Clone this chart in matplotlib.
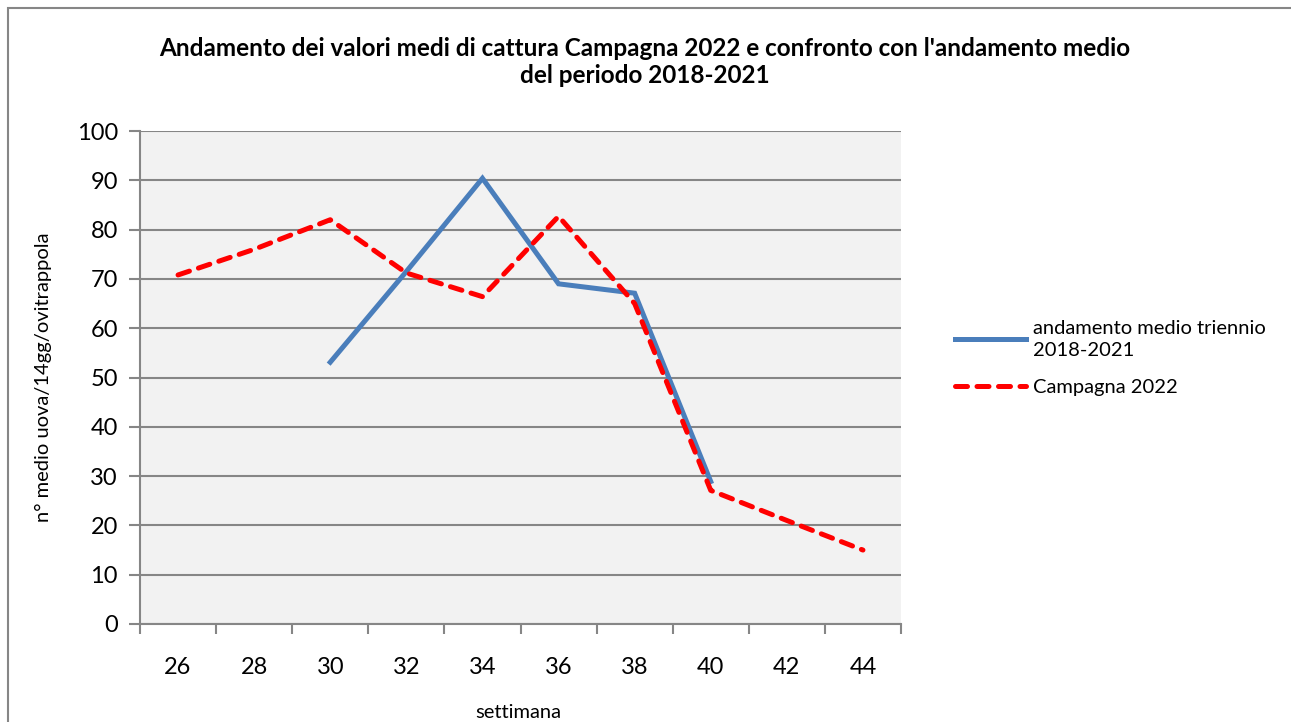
import matplotlib
matplotlib.use("Agg")
import matplotlib.pyplot as plt
from matplotlib.patches import Rectangle
import numpy as np

plt.rcParams["font.family"] = ["Lato", "DejaVu Sans"]

# Data
weeks = ["26", "28", "30", "32", "34", "36", "38", "40", "42", "44"]
media_2018_2021 = [np.nan, np.nan, 53.1, 71.5, 90.4, 69.0, 67.1, 28.9, np.nan, np.nan]
campagna_2022 = [70.8, 76.0, 82.0, 71.2, 66.4, 82.7, 65.0, 27.1, 21.0, 15.0]

title = ("Andamento dei valori medi di cattura Campagna 2022 e confronto con l'andamento medio\n"
         "del periodo 2018-2021")
label_blue = "andamento medio triennio\n2018-2021"
label_red = "Campagna 2022"

W, H = 1291, 722
fig = plt.figure(figsize=(W / 100, H / 100), dpi=100)

# outer chart border
fig.patches.append(Rectangle((8 / W, -0.1), 1.2, 1 - 8 / H + 0.1, transform=fig.transFigure,
                             fill=False, edgecolor="#868686", linewidth=1.5))

ax = fig.add_axes([140 / W, 1 - 624 / H, (901 - 140) / W, (624 - 131) / H])
ax.set_facecolor("#f2f2f2")

x = np.arange(len(weeks))
ax.plot(x, media_2018_2021, color="#4a7ebb", linewidth=3.6, label=label_blue,
        solid_joinstyle="miter", zorder=3)
ax.plot(x, campagna_2022, color="#ff0000", linewidth=3.6, linestyle=(0, (2.4, 1.9)),
        dash_capstyle="round", label=label_red, zorder=4)

ax.set_xlim(-0.5, len(weeks) - 0.5)
ax.set_ylim(0, 100)
ax.set_yticks(range(0, 101, 10))
ax.yaxis.grid(True, color="#868686", linewidth=1.5)
ax.set_axisbelow(True)

ax.set_xticks(np.arange(-0.5, len(weeks)), labels=[""] * (len(weeks) + 1))
ax.set_xticks(x, labels=weeks, minor=True)
ax.tick_params(axis="x", which="major", length=7, width=1.5, color="#868686")
ax.tick_params(axis="x", which="minor", length=0, pad=24, labelsize=17)
ax.tick_params(axis="y", length=8, width=1.5, color="#868686", labelsize=17, pad=8)

for side in ["top", "right"]:
    ax.spines[side].set_visible(False)
for side in ["left", "bottom"]:
    ax.spines[side].set_color("#868686")
    ax.spines[side].set_linewidth(1.5)

ax.set_ylabel("n° medio uova/14gg/ovitrappola", fontsize=14.5, labelpad=18)
fig.text(518 / W, 1 - 712 / H, "settimana", fontsize=14.5, ha="center", va="center")

fig.text(645 / W, 1 - 62 / H, title, fontsize=17.5, fontweight="bold", ha="center",
         va="center", linespacing=1.2)

leg = fig.legend(loc="center left", bbox_to_anchor=(937 / W, 1 - 358 / H), frameon=False,
                 fontsize=14.5, handlelength=3.5, handletextpad=0.35, labelspacing=1.0)
for t in leg.get_texts():
    t.set_linespacing(1.35)

fig.savefig("out.png", dpi=100)
